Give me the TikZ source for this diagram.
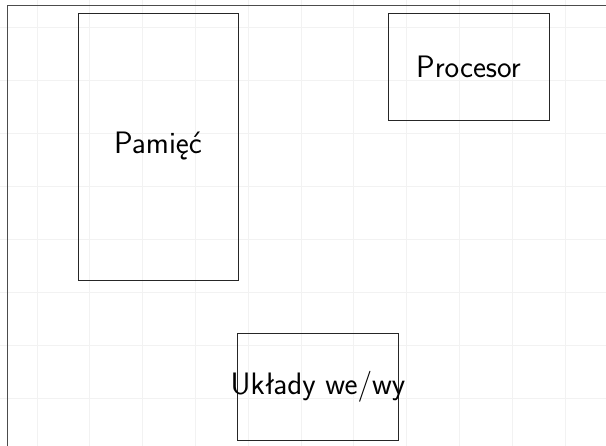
\documentclass[tikz,border=0pt]{standalone}
\begin{document}
\begin{tikzpicture}[x=1pt,y=-1pt,
  unit/.style={draw=black!85, line width=0.8pt, minimum width=#1, inner sep=0pt},
  lbl/.style={font=\sffamily\fontsize{31}{36}\selectfont, inner sep=0pt},
  gridline/.style={draw=black!5, line width=0.8pt},
  frame/.style={draw=black!70, line width=1.2pt}]
\useasboundingbox (0,0) rectangle (606,446);
\fill[white] (0,0) rectangle (606,446);
% faint background grid
\foreach \i in {0,...,10} \draw[gridline] ({37+52.8*\i},0) -- ({37+52.8*\i},446);
\foreach \j in {0,...,7} \draw[gridline] (0,{27+53.1*\j}) -- (606,{27+53.1*\j});
% frame
\coordinate (ftr) at (606,5.5);
\coordinate (ftl) at (7.5,5.5);
\coordinate (fbl) at (7.5,446);
\draw[frame] (ftr) -- (ftl) -- (fbl);
% units
\node[unit=160pt, minimum height=267pt] (mem) at (158,146.5) {};
\node[lbl] at (mem.center) {Pamięć};
\node[unit=161pt, minimum height=107pt] (cpu) at (468.5,66.5) {};
\node[lbl] at (cpu.center) {Procesor};
\node[unit=161pt, minimum height=107pt] (io) at (318,386.5) {};
\node[lbl] at (io.center) {Układy we/wy};
\end{tikzpicture}
\end{document}
